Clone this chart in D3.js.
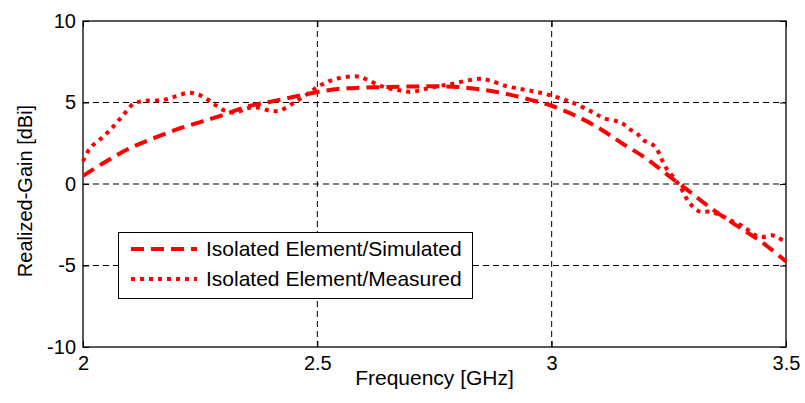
<!DOCTYPE html>
<html>
<head>
<meta charset="utf-8">
<script src="https://cdn.jsdelivr.net/npm/d3@7"></script>
<style>
  body { margin: 0; background: #fff; }
  text { font-family: "Liberation Sans", Arial, sans-serif; fill: #000; }
</style>
</head>
<body>
<svg id="chart" width="805" height="403"></svg>
<script>
"use strict";

// Données (fréquence en GHz, gain en dBi)
var simFreq = [2.00, 2.05, 2.10, 2.15, 2.20, 2.25, 2.30, 2.35, 2.40, 2.45, 2.50, 2.55, 2.60, 2.65, 2.70,
  2.75, 2.80, 2.85, 2.90, 2.95, 3.00, 3.05, 3.10, 3.15, 3.20, 3.25, 3.30, 3.35, 3.40, 3.45, 3.50]
var simGain = [0.5, 1.4, 2.2, 2.8, 3.35, 3.8, 4.25, 4.75, 5.05, 5.35, 5.65, 5.85, 5.92, 5.95, 5.98,
  6.0, 5.95, 5.8, 5.55, 5.2, 4.8, 4.2, 3.45, 2.5, 1.6, 0.5, -0.6, -1.7, -2.65, -3.6, -4.75]

var measFreq = [2.000, 2.015, 2.043, 2.064, 2.085, 2.107, 2.130, 2.170, 2.200, 2.225, 2.245, 2.265, 2.285,
  2.307, 2.328, 2.350, 2.371, 2.399, 2.420, 2.448, 2.478, 2.506, 2.540, 2.585, 2.606, 2.633, 2.655,
  2.676, 2.698, 2.720, 2.740, 2.768, 2.790, 2.820, 2.847, 2.868, 2.904, 2.939, 2.968, 2.996, 3.039,
  3.088, 3.110, 3.139, 3.152, 3.167, 3.182, 3.195, 3.216, 3.227, 3.235, 3.246, 3.259, 3.274, 3.284,
  3.295, 3.316, 3.338, 3.359, 3.380, 3.408, 3.438, 3.451, 3.470, 3.483, 3.500]
var measGain = [1.4, 2.2, 2.9, 3.5, 4.2, 4.9, 5.1, 5.15, 5.4, 5.6, 5.5, 5.2, 4.8,
  4.45, 4.4, 4.65, 4.7, 4.5, 4.5, 4.95, 5.5, 6.05, 6.45, 6.6, 6.4, 6.05, 5.85,
  5.75, 5.65, 5.75, 5.9, 6.05, 6.15, 6.35, 6.45, 6.35, 6.0, 5.8, 5.65, 5.45, 5.05,
  4.4, 4.05, 3.85, 3.7, 3.35, 3.1, 2.7, 2.4, 2.0, 1.5, 0.9, 0.45, -0.15, -0.7,
  -1.2, -1.7, -1.7, -1.9, -2.2, -2.6, -3.2, -3.25, -3.15, -3.3, -3.55]

var xTicks = [2, 2.5, 3, 3.5]
var yTicks = [-10, -5, 0, 5, 10]
var seriesNames = ["Isolated Element/Simulated", "Isolated Element/Measured"]

var svg = d3.select("#chart")
var plotLeft = 83, plotRight = 786, plotTop = 21, plotBottom = 347

var x = d3.scaleLinear().domain([2, 3.5]).range([plotLeft, plotRight])
var y = d3.scaleLinear().domain([-10, 10]).range([plotBottom, plotTop])

// grille en pointillés
svg.append("g")
  .selectAll("line")
  .data(xTicks.slice(1, -1))
  .enter().append("line")
    .attr("x1", d => x(d)).attr("x2", d => x(d))
    .attr("y1", plotTop).attr("y2", plotBottom)
    .attr("stroke", "#000").attr("stroke-dasharray", "6,4")
svg.append("g")
  .selectAll("line")
  .data(yTicks.slice(1, -1))
  .enter().append("line")
    .attr("x1", plotLeft).attr("x2", plotRight)
    .attr("y1", d => y(d)).attr("y2", d => y(d))
    .attr("stroke", "#000").attr("stroke-dasharray", "6,4")

// axes (ticks vers l'intérieur), tirets simples comme dans l'original
var plain = d => String(d)
var xAxis = svg.append("g")
  .attr("transform", "translate(0," + plotBottom + ")")
  .call(d3.axisBottom(x).tickValues(xTicks).tickSize(-6).tickPadding(11).tickFormat(plain))
svg.append("g")
  .attr("transform", "translate(0," + plotTop + ")")
  .call(d3.axisTop(x).tickValues(xTicks).tickSize(-6).tickFormat(""))
svg.append("g")
  .attr("transform", "translate(" + plotLeft + ",0)")
  .call(d3.axisLeft(y).tickValues(yTicks).tickSize(-6).tickPadding(7).tickFormat(plain))
svg.append("g")
  .attr("transform", "translate(" + plotRight + ",0)")
  .call(d3.axisRight(y).tickValues(yTicks).tickSize(-6).tickFormat(""))

svg.selectAll(".domain").remove()
svg.selectAll(".tick line").attr("stroke", "#000")
svg.selectAll(".tick text").style("font-size", "20px").style("font-family", "'Liberation Sans', Arial, sans-serif")
xAxis.selectAll(".tick text").attr("dy", "0.6em")

// cadre
svg.append("rect")
  .attr("x", plotLeft).attr("y", plotTop)
  .attr("width", plotRight - plotLeft).attr("height", plotBottom - plotTop)
  .attr("fill", "none").attr("stroke", "#000").attr("stroke-width", 1.3)

// courbes
var line = d3.line()
  .x(d => x(d[0]))
  .y(d => y(d[1]))
  .curve(d3.curveCatmullRom)

var plot = svg.append("g")
plot.append("path")
  .datum(d3.zip(simFreq, simGain))
  .attr("d", line)
  .attr("fill", "none").attr("stroke", "#ff0000").attr("stroke-width", 4)
  .attr("stroke-dasharray", "13,7")
plot.append("path")
  .datum(d3.zip(measFreq, measGain))
  .attr("d", line)
  .attr("fill", "none").attr("stroke", "#ff0000").attr("stroke-width", 4)
  .attr("stroke-dasharray", "4,5")

// légende
var leg = svg.append("g")
leg.append("rect")
  .attr("x", 118.5).attr("y", 232.5).attr("width", 354).attr("height", 66)
  .attr("fill", "#fff").attr("stroke", "#000").attr("stroke-width", 1)
var items = leg.selectAll("g.item")
  .data(seriesNames)
  .enter().append("g")
    .attr("class", "item")
    .attr("transform", (d, i) => "translate(0," + (249 + i * 30) + ")")
items.append("line")
  .attr("x1", 131).attr("x2", 197).attr("y1", 0).attr("y2", 0)
  .attr("stroke", "#ff0000").attr("stroke-width", 4)
  .attr("stroke-dasharray", (d, i) => i === 0 ? "13,7" : "4,5")
items.append("text")
  .attr("x", 206).attr("y", 7)
  .style("font-size", "21px")
  .text(d => d)

// titres des axes
svg.append("text")
  .attr("x", (plotLeft + plotRight) / 2).attr("y", 385)
  .attr("text-anchor", "middle")
  .style("font-size", "21px")
  .text("Frequency [GHz]")
svg.append("text")
  .attr("transform", "translate(32,191) rotate(-90)")
  .attr("text-anchor", "middle")
  .style("font-size", "20px")
  .text("Realized-Gain [dBi]")
</script>
</body>
</html>
